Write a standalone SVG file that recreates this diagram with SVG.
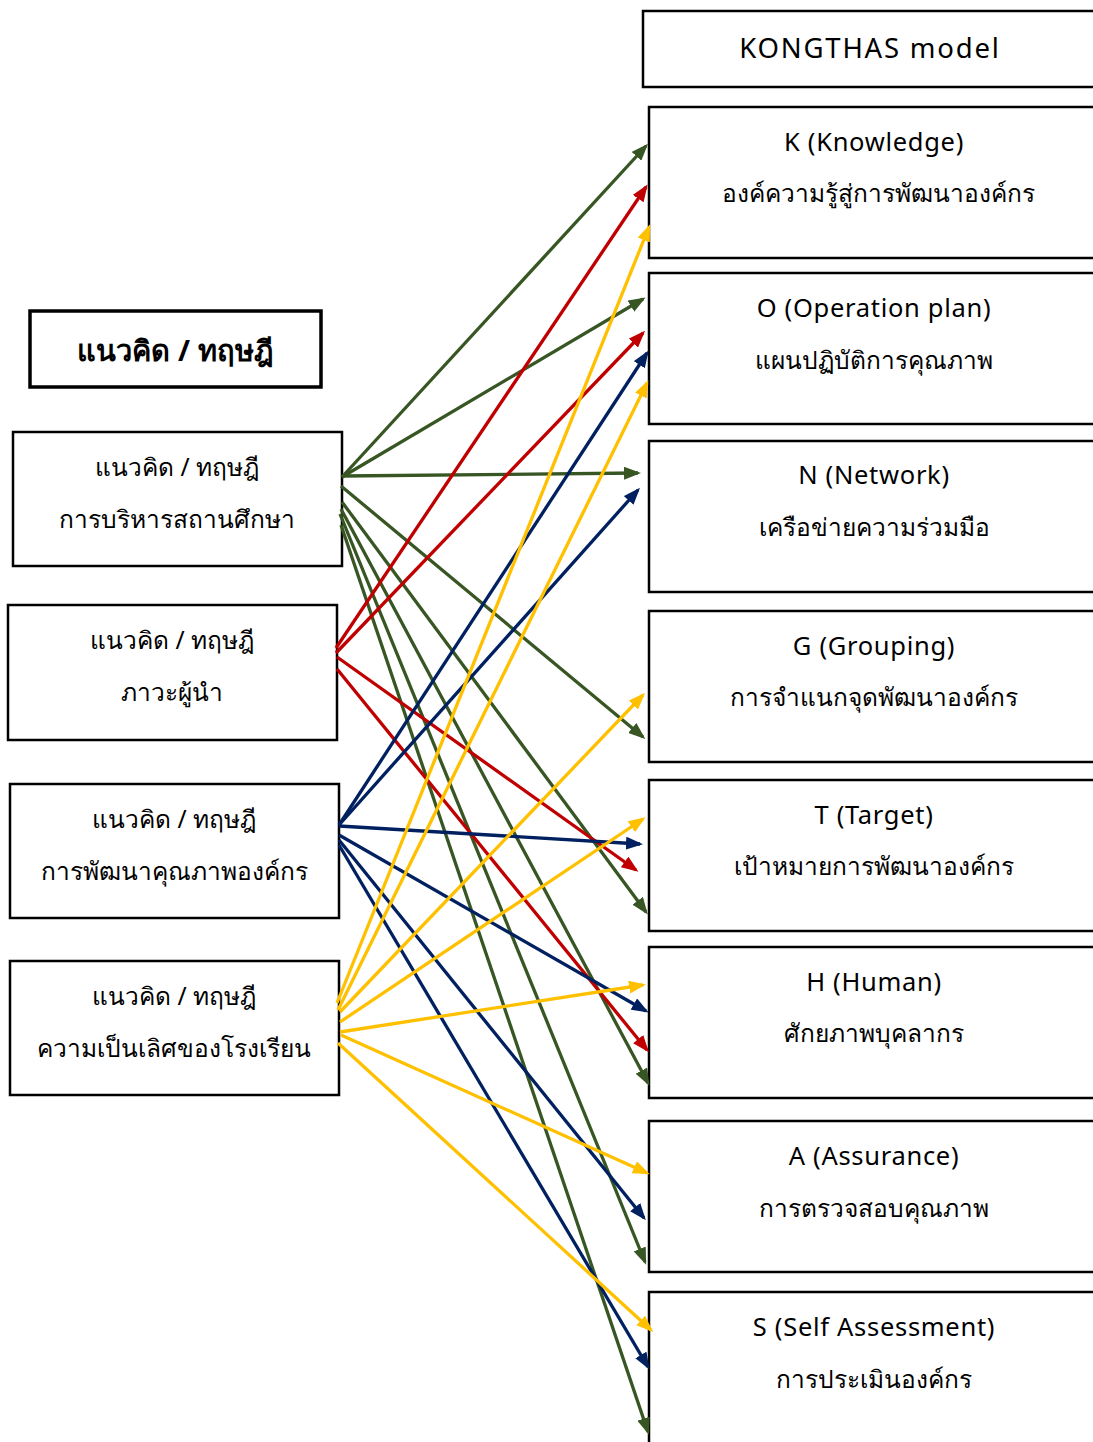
<svg xmlns="http://www.w3.org/2000/svg" width="1093" height="1442" viewBox="0 0 1093 1442">
<style>
.box{fill:#fff;stroke:#000;stroke-width:2.5}
.tb{fill:#fff;stroke:#000;stroke-width:3.5}
.t{font-family:"Noto Sans","Liberation Sans",sans-serif;font-size:24.5px;fill:#000;text-anchor:middle}
.h{font-family:"Noto Sans","Liberation Sans",sans-serif;font-size:25.5px;letter-spacing:0.7px;fill:#000;text-anchor:middle}
.tt{font-family:"Noto Sans","Liberation Sans",sans-serif;font-size:29px;font-weight:bold;fill:#000;text-anchor:middle}
.g{stroke:#375623;stroke-width:3.3;fill:none;marker-end:url(#ag)}
.r{stroke:#C00000;stroke-width:3.3;fill:none;marker-end:url(#ar)}
.n{stroke:#002060;stroke-width:3.3;fill:none;marker-end:url(#an)}
.y{stroke:#FFC000;stroke-width:3.3;fill:none;marker-end:url(#ay)}
</style>
<defs>
<marker id="ag" markerUnits="userSpaceOnUse" markerWidth="17" markerHeight="13" refX="14" refY="6.5" orient="auto"><path d="M0,0 L17,6.5 L0,13 z" fill="#375623"/></marker>
<marker id="ar" markerUnits="userSpaceOnUse" markerWidth="17" markerHeight="13" refX="14" refY="6.5" orient="auto"><path d="M0,0 L17,6.5 L0,13 z" fill="#C00000"/></marker>
<marker id="an" markerUnits="userSpaceOnUse" markerWidth="17" markerHeight="13" refX="14" refY="6.5" orient="auto"><path d="M0,0 L17,6.5 L0,13 z" fill="#002060"/></marker>
<marker id="ay" markerUnits="userSpaceOnUse" markerWidth="17" markerHeight="13" refX="14" refY="6.5" orient="auto"><path d="M0,0 L17,6.5 L0,13 z" fill="#FFC000"/></marker>
</defs>
<rect width="1093" height="1442" fill="#fff"/>

<g id="title-left"><rect class="tb" x="30" y="311" width="291" height="76"/><text class="tt" x="175" y="361">แนวคิด / ทฤษฎี</text></g>
<g id="c1"><rect class="box" x="13" y="432" width="329" height="134"/><text class="t" x="177" y="476">แนวคิด / ทฤษฎี</text><text class="t" x="177" y="528">การบริหารสถานศึกษา</text></g>
<g id="c2"><rect class="box" x="8" y="605" width="329" height="135"/><text class="t" x="172" y="649">แนวคิด / ทฤษฎี</text><text class="t" x="172" y="701">ภาวะผู้นำ</text></g>
<g id="c3"><rect class="box" x="10" y="784" width="329" height="134"/><text class="t" x="174" y="828">แนวคิด / ทฤษฎี</text><text class="t" x="174" y="880">การพัฒนาคุณภาพองค์กร</text></g>
<g id="c4"><rect class="box" x="10" y="961" width="329" height="134"/><text class="t" x="174" y="1005">แนวคิด / ทฤษฎี</text><text class="t" x="174" y="1057">ความเป็นเลิศของโรงเรียน</text></g>

<g id="title-right"><rect class="box" x="643" y="11" width="460" height="76"/><text class="h" x="870" y="58" style="font-size:27.5px;letter-spacing:1.8px">KONGTHAS model</text></g>
<g id="K"><rect class="box" x="649" y="107" width="454" height="151"/><text class="h" x="874" y="151">K (Knowledge)</text><text class="t" x="878" y="202">องค์ความรู้สู่การพัฒนาองค์กร</text></g>
<g id="O"><rect class="box" x="649" y="273" width="454" height="151"/><text class="h" x="874" y="317">O (Operation plan)</text><text class="t" x="874" y="369">แผนปฏิบัติการคุณภาพ</text></g>
<g id="N"><rect class="box" x="649" y="441" width="454" height="151"/><text class="h" x="874" y="484">N (Network)</text><text class="t" x="874" y="536">เครือข่ายความร่วมมือ</text></g>
<g id="G"><rect class="box" x="649" y="611" width="454" height="151"/><text class="h" x="874" y="655">G (Grouping)</text><text class="t" x="874" y="706">การจำแนกจุดพัฒนาองค์กร</text></g>
<g id="T"><rect class="box" x="649" y="780" width="454" height="151"/><text class="h" x="874" y="824">T (Target)</text><text class="t" x="874" y="875">เป้าหมายการพัฒนาองค์กร</text></g>
<g id="H"><rect class="box" x="649" y="947" width="454" height="151"/><text class="h" x="874" y="991">H (Human)</text><text class="t" x="874" y="1042">ศักยภาพบุคลากร</text></g>
<g id="A"><rect class="box" x="649" y="1121" width="454" height="151"/><text class="h" x="874" y="1165">A (Assurance)</text><text class="t" x="874" y="1217">การตรวจสอบคุณภาพ</text></g>
<g id="S"><rect class="box" x="649" y="1292" width="454" height="160"/><text class="h" x="874" y="1336">S (Self Assessment)</text><text class="t" x="874" y="1388">การประเมินองค์กร</text></g>

<g id="connectors">
<line class="g" x1="342" y1="477" x2="646" y2="146"/>
<line class="g" x1="342" y1="477" x2="643" y2="299"/>
<line class="g" x1="342" y1="476" x2="638" y2="473"/>
<line class="g" x1="341" y1="486" x2="643" y2="737"/>
<line class="g" x1="342" y1="502" x2="646" y2="912"/>
<line class="g" x1="341" y1="509" x2="648" y2="1083"/>
<line class="g" x1="340" y1="514" x2="645" y2="1262"/>
<line class="g" x1="341" y1="525" x2="648" y2="1432"/>

<line class="r" x1="336" y1="648" x2="646" y2="187"/>
<line class="r" x1="336" y1="653" x2="643" y2="333"/>
<line class="r" x1="337" y1="657" x2="636" y2="870"/>
<line class="r" x1="337" y1="669" x2="647" y2="1050"/>

<line class="n" x1="339" y1="825" x2="647" y2="353"/>
<line class="n" x1="339" y1="825" x2="638" y2="490"/>
<line class="n" x1="339" y1="826" x2="640" y2="844"/>
<line class="n" x1="339" y1="835" x2="646" y2="1011"/>
<line class="n" x1="339" y1="840" x2="644" y2="1218"/>
<line class="n" x1="339" y1="845" x2="648" y2="1367"/>

<line class="y" x1="337" y1="1003" x2="649" y2="227"/>
<line class="y" x1="338" y1="1010" x2="647" y2="383"/>
<line class="y" x1="340" y1="1012" x2="643" y2="695"/>
<line class="y" x1="340" y1="1022" x2="643" y2="819"/>
<line class="y" x1="340" y1="1032" x2="643" y2="985"/>
<line class="y" x1="341" y1="1035" x2="647" y2="1173"/>
<line class="y" x1="338" y1="1043" x2="651" y2="1330"/>
</g>
</svg>
